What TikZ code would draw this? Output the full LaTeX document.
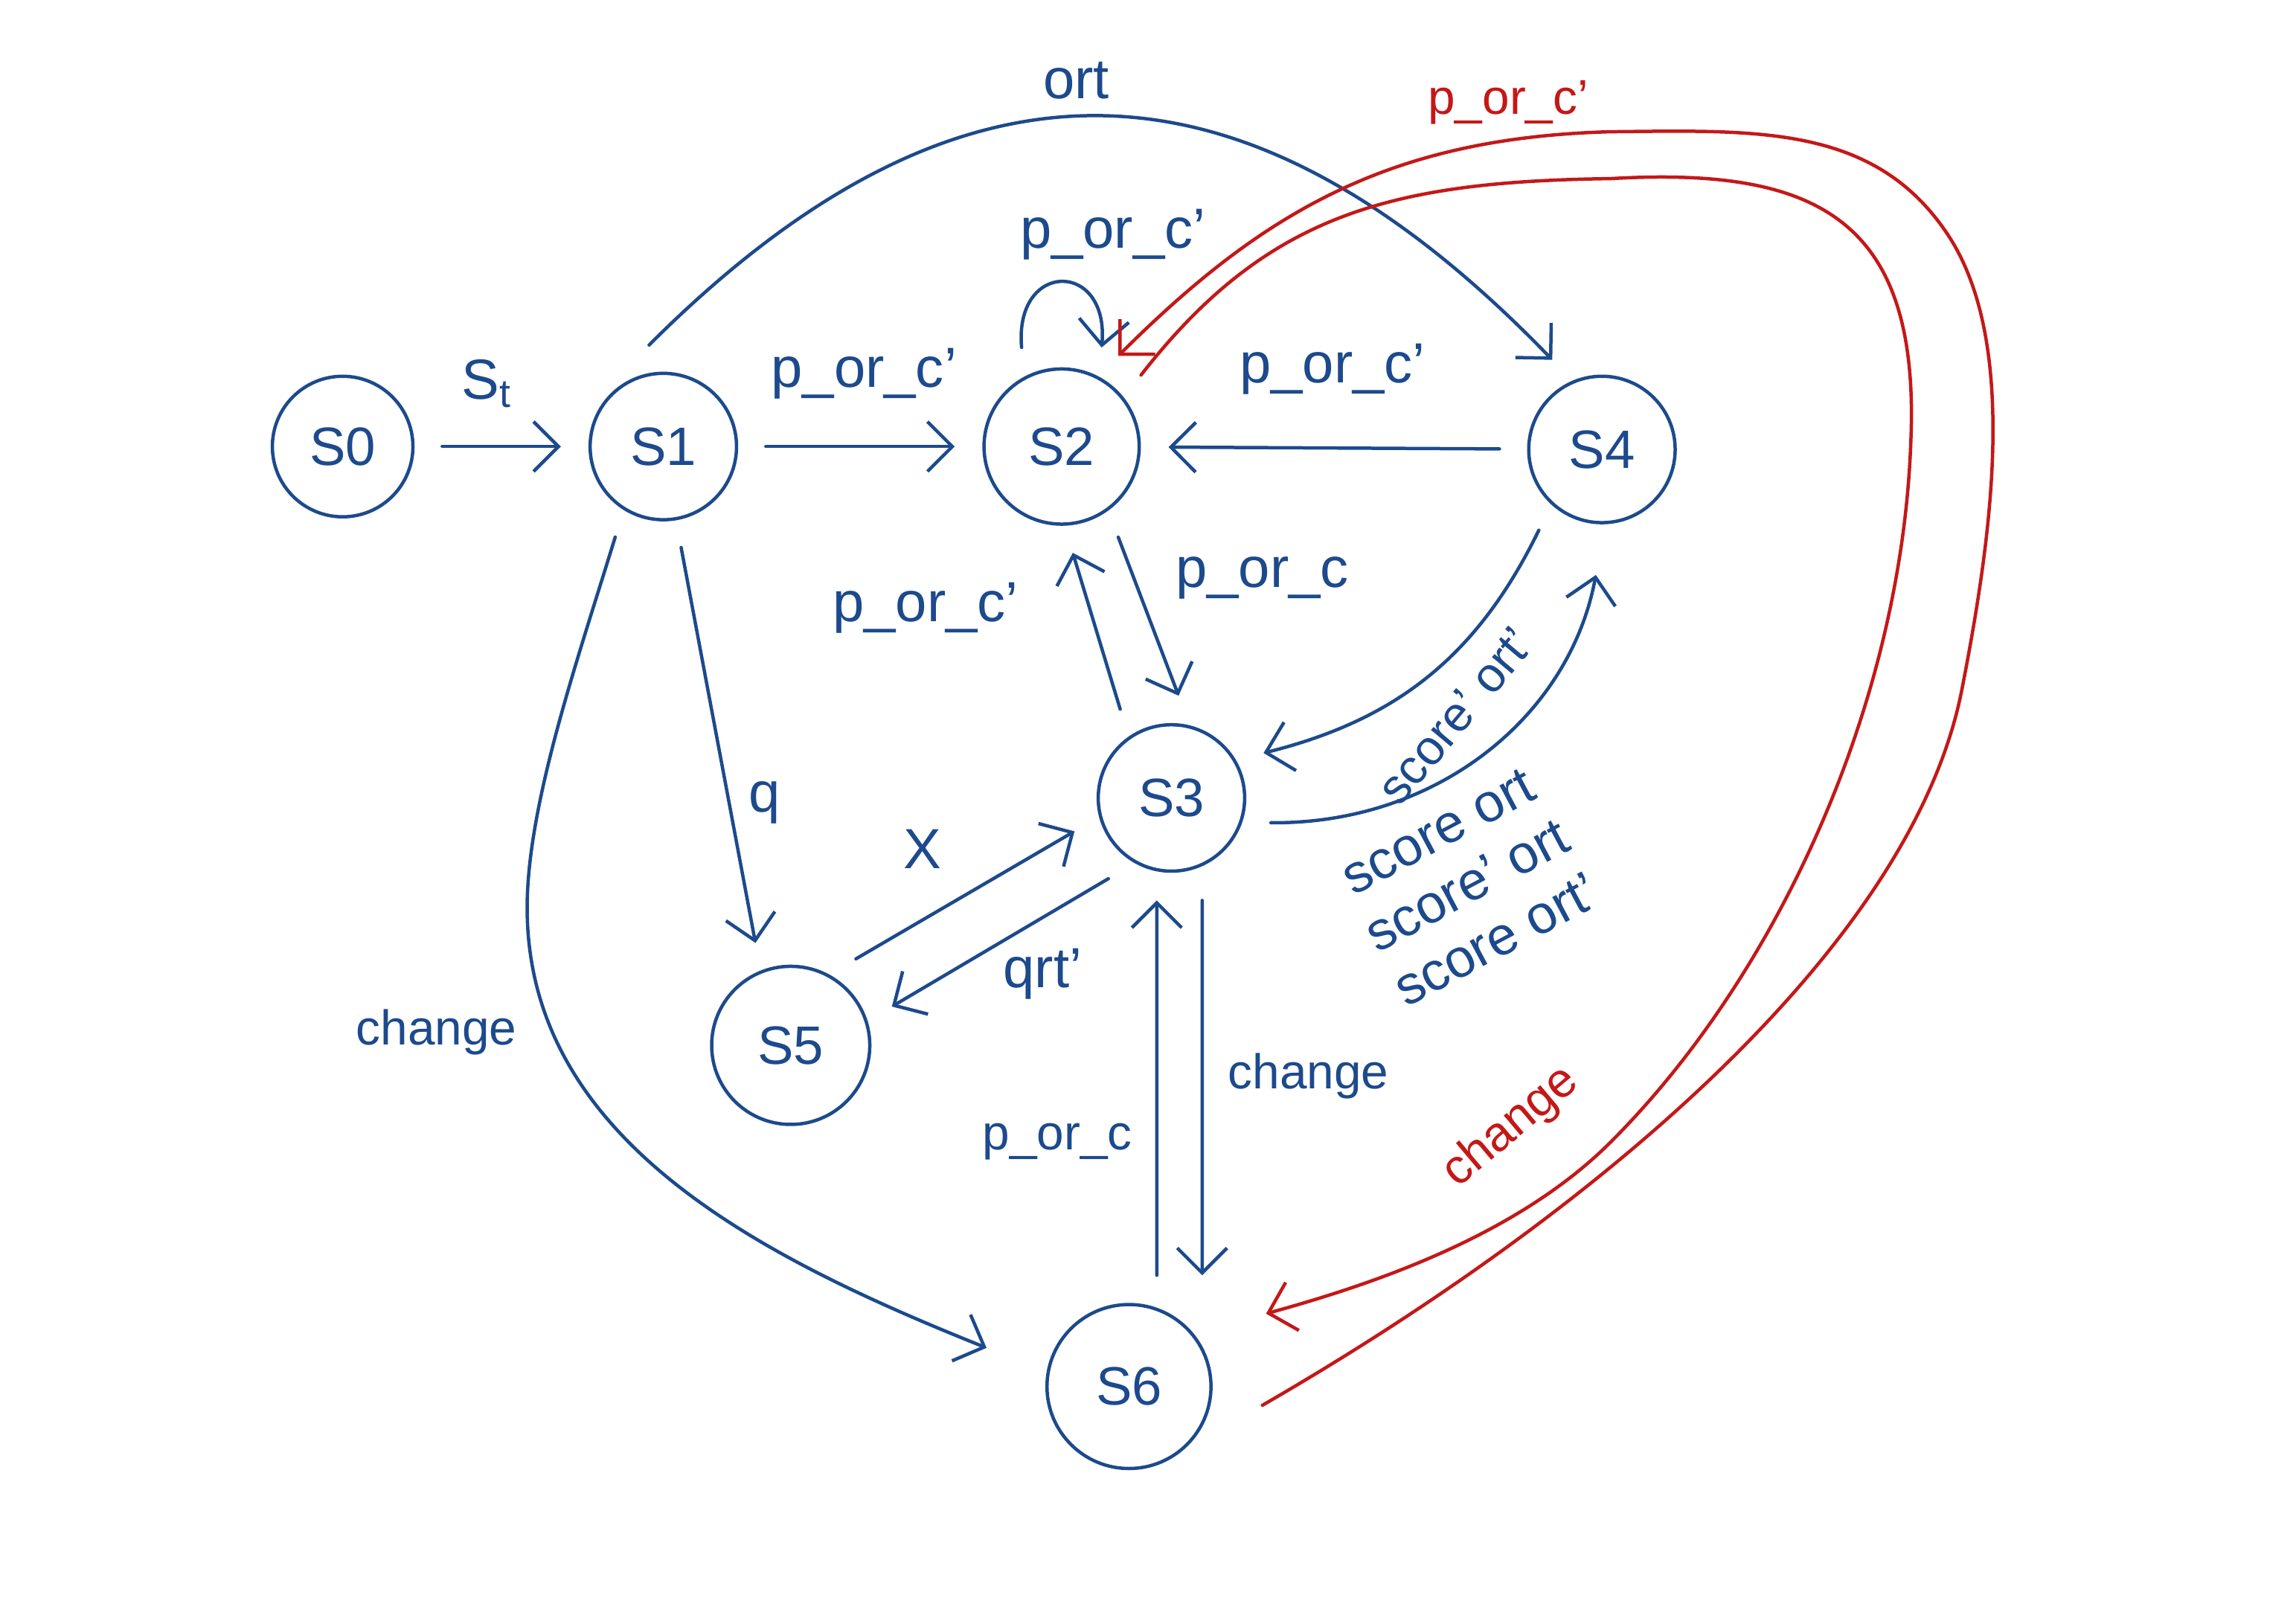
\documentclass[tikz,border=0pt]{standalone}
\usepackage{fontspec}
\setmainfont{Liberation Sans}
\usetikzlibrary{arrows.meta,calc}
\definecolor{inkblue}{RGB}{28,74,140}
\definecolor{inkred}{RGB}{196,24,24}
\begin{document}
\begin{tikzpicture}[>={Straight Barb[length=1.7mm,width=3.4mm]},line join=round,line cap=round,
	line width=.65pt,inkblue,font=\fontsize{11}{12}\selectfont,
	state/.style={circle,draw,inner sep=0pt,outer sep=2mm,font=\fontsize{10.5}{11}\selectfont},
	small/.style={font=\fontsize{9.5}{11}\selectfont},
	red edge/.style={inkred,->}]
	\useasboundingbox (0,0) rectangle (15.68,11.09);
	
	\node[state,minimum size=9.6mm] (s0) at (2.34,8.04) {S0};
	\node[state,minimum size=10mm] (s1) at (4.53,8.04) {S1};
	\node[state,minimum size=10.6mm] (s2) at (7.25,8.04) {S2};
	\node[state,minimum size=10mm] (s4) at (10.94,8.02) {S4};
	\node[state,minimum size=10mm] (s3) at (8.00,5.64) {S3};
	\node[state,minimum size=10.8mm] (s5) at (5.40,3.95) {S5};
	\node[state,minimum size=11.2mm] (s6) at (7.71,1.62) {S6};
	
	\draw[->] (s0)--(s1);
	\draw[->] (s1)--(s2);
	\draw[->] (s4)--(s2);
	\draw[->] (s2.112) .. controls +(95:.6) and +(85:.6) .. (s2.68);
	\draw[->] (s1.98) to[out=45,in=134,looseness=1.25] (s4.119);
	\draw[->] (s2.-58)--(s3.86);
	\draw[->] (s3.120)--(s2.-84);
	\draw[->] (s4.-128) to[bend left=25] (s3.26);
	\draw[->,shorten >=1.6mm] (s3.-14) to[bend right=40] (s4.-91);
	\draw[->] (s1.-80)--(s5.109);
	\draw[->] (s5.53)--(s3.-161);
	\draw[->] (s3.232)--(s5.21);
	\draw[->] ([xshift=2.1mm]s3.south)--([xshift=5mm]s6.north);
	\draw[->] ([xshift=1.9mm]s6.north)--([xshift=-1mm]s3.south);
	\draw[->,shorten >=2.5mm] (s1.-118) .. controls (3.95,6.6) and (3.6,5.6) .. (3.6,4.89)
		.. controls (3.6,3.3) and (5.2,2.5) .. (s6.167);
	
	% red edges
	\draw[red edge] ($(s6)+(-8:.92)$) .. controls (10.87,2.79) and (13.06,4.62) .. (13.4,6.39)
		.. controls (13.59,7.37) and (13.8,8.74) .. (13.3,9.49)
		.. controls (12.8,10.24) and (12.0,10.2) .. (11.0,10.19)
		.. controls (9.5,10.15) and (8.63,9.65) .. (s2.58);
	\draw[red edge] (s2.42) .. controls (8.65,9.63) and (9.5,9.85) .. (11.0,9.87)
		.. controls (12.4,9.95) and (13.11,9.6) .. (13.05,8.09)
		.. controls (12.99,6.29) and (12.14,4.43) .. (11.0,3.29)
		.. controls (10.36,2.65) and (9.38,2.32) .. ($(s6)+(28:1.06)$);
	
	\node (lst) at (3.33,8.47) {S$_\mathrm{t}$};
	\node (l12) at (5.90,8.54) {p\_or\_c'};
	\node (l42) at (9.10,8.57) {p\_or\_c'};
	\node (l22) at (7.60,9.49) {p\_or\_c'};
	\node (lort) at (7.35,10.54) {ort};
	\node (l23) at (8.62,7.14) {p\_or\_c};
	\node (l32) at (6.32,6.94) {p\_or\_c'};
	\node[rotate=50,small,inner sep=0pt] (l43) at (9.94,6.20) {score' ort'};
	\node[rotate=28,align=center,font=\fontsize{10.5}{12}\selectfont] (l34) at (10.02,5.04) {score ort\\score' ort\\score ort'};
	\node (l15) at (5.22,5.61) {q};
	\node (l53) at (6.30,5.29) {X};
	\node (l35) at (7.12,4.44) {qrt'};
	\node[small,anchor=west] (l36) at (8.26,3.74) {change};
	\node[small] (l63) at (7.22,3.29) {p\_or\_c};
	\node[small] (l16) at (2.98,4.04) {change};
	\node[inkred,small] (l62) at (10.30,10.39) {p\_or\_c'};
	\node[inkred,rotate=40,small] (l26) at (10.32,3.39) {change};
\end{tikzpicture}
\end{document}
